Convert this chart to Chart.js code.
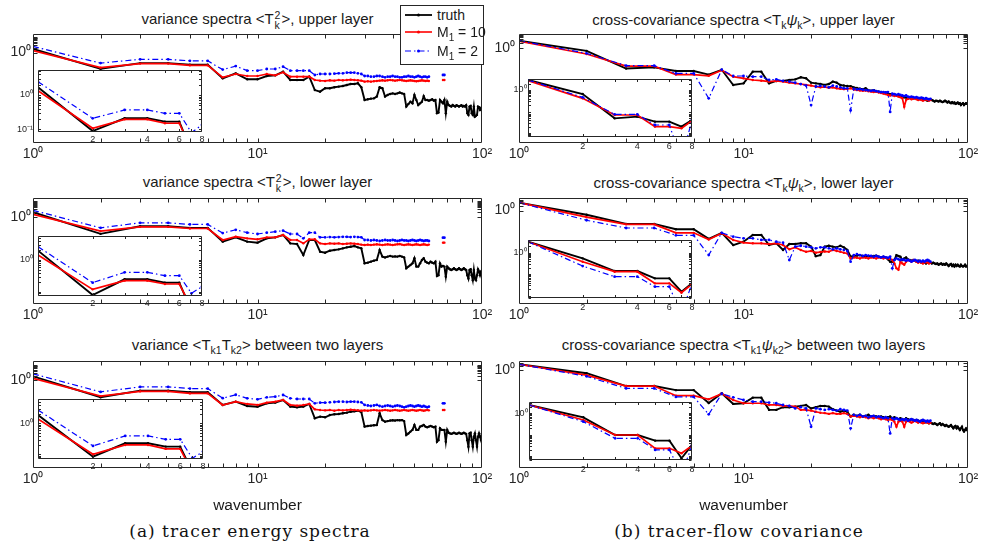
<!DOCTYPE html>
<html>
<head>
<meta charset="utf-8">
<script src="https://cdn.jsdelivr.net/npm/chart.js@4.4.1/dist/chart.umd.min.js"></script>
<style>
  html, body { margin: 0; padding: 0; background: #ffffff; }
  #fig { position: relative; width: 981px; height: 544px; overflow: hidden; background: #fff;
         font-family: "Liberation Sans", Arial, Helvetica, sans-serif; color: #1a1a1a; }
  #fig canvas { position: absolute; }
  .ttl { position: absolute; transform: translate(-50%, -50%); white-space: nowrap;
         font-size: 15px; line-height: 18px; color: #1a1a1a; }
  .ttl sub { font-size: 10.5px; vertical-align: -4px; line-height: 0; }
  .ss { display: inline-block; vertical-align: -5px; font-size: 10.5px; line-height: 10px; margin: 0 1px; }
  .ss span { display: block; }
  .psi { font-style: italic; }
  .cap { position: absolute; transform: translate(-50%, -50%); white-space: nowrap;
         font-family: "DejaVu Serif", "Liberation Serif", serif; font-size: 17px; letter-spacing: 1px; color: #111; }
  #lg { position: absolute; left: 400px; top: 5px; width: 82px; height: 58px;
        border: 1px solid #262626; background: #fff; }
  #lg svg { position: absolute; left: 4px; }
  #lg .lt { position: absolute; left: 36px; font-size: 14px; line-height: 16px; white-space: nowrap; color: #1a1a1a; }
  #lg sub { font-size: 10px; vertical-align: -4px; line-height: 0; }
</style>
</head>
<body>
<div id="fig">
  <div class="ttl" style="left:257.5px;top:20px">variance spectra &lt;T<span class="ss"><span>2</span><span>k</span></span>&gt;, upper layer</div>
  <div class="ttl" style="left:257.5px;top:183px">variance spectra &lt;T<span class="ss"><span>2</span><span>k</span></span>&gt;, lower layer</div>
  <div class="ttl" style="left:257.5px;top:345px">variance &lt;T<sub>k1</sub>T<sub>k2</sub>&gt; between two layers</div>
  <div class="ttl" style="left:743.5px;top:20px">cross-covariance spectra &lt;T<sub>k</sub><span class="psi">ψ</span><sub>k</sub>&gt;, upper layer</div>
  <div class="ttl" style="left:743.5px;top:183px">cross-covariance spectra &lt;T<sub>k</sub><span class="psi">ψ</span><sub>k</sub>&gt;, lower layer</div>
  <div class="ttl" style="left:743.5px;top:345px">cross-covariance spectra &lt;T<sub>k1</sub><span class="psi">ψ</span><sub>k2</sub>&gt; between two layers</div>
  <div class="cap" style="left:250px;top:531px">(a) tracer energy spectra</div>
  <div class="cap" style="left:739px;top:531px">(b) tracer-flow covariance</div>
  <div id="lg">
    <svg style="top:6px" width="28" height="6"><line x1="0" y1="3" x2="27" y2="3" stroke="#000" stroke-width="1.8"/><circle cx="13.5" cy="3" r="1.5" fill="#000"/></svg>
    <div class="lt" style="top:1px">truth</div>
    <svg style="top:23px" width="28" height="6"><line x1="0" y1="3" x2="27" y2="3" stroke="#ff0000" stroke-width="1.6"/><circle cx="13.5" cy="3" r="1.5" fill="#ff0000"/></svg>
    <div class="lt" style="top:18px">M<sub>1</sub> = 10</div>
    <svg style="top:42px" width="28" height="6"><line x1="0" y1="3" x2="27" y2="3" stroke="#0000ff" stroke-width="1.2" stroke-dasharray="6 3 1.5 3"/><circle cx="13.5" cy="3" r="1.5" fill="#0000ff"/></svg>
    <div class="lt" style="top:37px">M<sub>1</sub> = 2</div>
  </div>
</div>
<script>
// integer wavenumbers on the horizontal axis
const wavenumber = [1,2,3,4,5,6,7,8,9,10,11,12,13,14,15,16,17,18,19,20,
  21,22,23,24,25,26,27,28,29,30,31,32,33,34,35,36,37,38,39,40,
  41,42,43,44,45,46,47,48,49,50,51,52,53,54,55,56,57,58,59,60,
  61,62,63,64,65,66,67,68,69,70,71,72,73,74,75,76,77,78,79,80,
  81,82,83,84,85,86,87,88,89,90,91,92,93,94,95,96,97,98,99,100];

// ---- variance spectra, upper layer ----
const varUpperTruth = [1.67,0.089,0.209,0.209,0.167,0.167,0.022,0.046,0.0191,0.0191,
  0.0312,0.0344,0.059,0.0173,0.0173,0.0173,0.0282,0.0039,0.0031,0.0051,
  0.0051,0.0059,0.0065,0.0071,0.0083,0.0096,0.0096,0.0106,0.0059,0.0009,
  0.001,0.0011,0.00115,0.0015,0.0059,0.0051,0.0015,0.0019,0.0022,0.0024,
  0.0022,0.0024,0.0027,0.0024,0.0022,0.00034,0.0005,0.0007,0.00055,0.0019,
  0.0009,0.00043,0.00055,0.0007,0.0016,0.0009,0.0009,0.00082,0.0009,0.001,
  0.00082,0.0009,0.00013,0.00014,0.0009,0.0007,0.00055,0.0009,0.00013,0.0007,
  0.00043,0.00038,0.00034,0.00043,0.00038,0.00034,0.00042,0.00038,0.00034,0.00038,
  0.00042,0.00034,0.00038,0.00034,0.00042,0.00013,0.0001,0.00034,0.00038,0.00013,
  0.0001,0.00034,0.000077,0.000087,0.0001,0.00034,0.00031,0.00021,0.00027,0.00034];
const varUpperM10 = [1.34,0.107,0.195,0.195,0.150,0.150,0.0256,0.0418,0.0312,0.0312,
  0.0418,0.0344,0.0536,0.0282,0.0282,0.0282,0.0282,0.0173,
  0.0157,0.0150,0.0165,0.0157,0.0173,0.0165,0.0173,0.0181,0.0173,0.0165,
  0.0157,0.0135,0.0143,0.0135,0.0143,0.0150,0.0157,0.0165,0.0157,0.0165,
  0.0173,0.0165,0.0157,0.0165,0.0173,0.0165,0.0157,0.0150,0.0157,0.0165,
  0.0157,0.0150,0.0143,0.0150,0.0157,0.0165,0.0157,0.0150,0.0157,0.0150,
  null,null,null,null,null,null,null,null,0.0173,0.0173];
const varUpperM2 = [2.45,0.209,0.366,0.366,0.292,0.292,0.080,0.134,0.0684,0.0684,
  0.0876,0.0876,0.123,0.0684,0.0684,0.0684,0.0684,0.036,
  0.0418,0.0418,0.0418,0.044,0.0464,0.0464,0.0511,0.0511,0.0511,0.0464,0.0418,
  0.0312,0.0312,0.0282,0.0282,0.0312,0.0312,0.0282,0.0256,0.0282,0.0282,
  0.0312,0.0282,0.0282,0.0256,0.0256,0.0282,0.0282,0.0312,0.0282,0.0282,
  0.0256,0.0282,0.0312,0.0282,0.0256,0.0282,0.0282,0.0256,0.0282,
  null,null,null,null,null,null,null,null,0.036,0.036];

// ---- variance spectra, lower layer ----
const varLowerTruth = [1.96,0.0805,0.249,0.249,0.196,0.196,0.0255,0.048,
  0.0255,0.022,0.0416,0.048,0.0683,0.0198,0.0179,0.00357,0.0325,0.0325,
  0.0058,0.005,0.0067,0.0074,0.0082,0.0095,0.011,0.0121,0.0133,0.011,0.0095,
  0.00104,0.00115,0.00133,0.00154,0.0017,0.0074,0.0028,0.0025,0.0028,0.0031,0.0028,0.0029,0.0028,0.0031,0.0028,0.0025,
  0.0005,0.00064,0.00081,0.00104,0.0022,0.00064,0.00064,0.00104,0.0017,0.0022,0.00133,0.00115,0.00104,0.00133,0.00115,0.00104,0.00133,
  0.00016,0.00018,0.00104,0.00064,0.00071,0.00064,0.000145,0.00064,
  0.0005,0.00043,0.00039,0.00043,0.0005,0.00043,0.00039,0.00043,0.0005,0.00043,0.00039,0.00043,0.0005,0.00043,0.00039,
  0.00018,0.00011,0.00039,0.00043,0.00018,0.000087,0.00039,0.00011,0.000087,0.00018,0.00043,0.00031,0.00018,0.00031,0.00039];
const varLowerM10 = [1.43,0.121,0.226,0.226,0.178,0.178,0.0326,0.053,
  0.0416,0.036,0.048,0.048,0.0683,0.0325,0.0325,0.0198,0.036,0.036,
  0.0198,0.0179,0.0198,0.0189,0.0198,0.0179,0.0189,0.0198,0.0189,0.0179,
  0.0165,0.0155,0.0165,0.0155,0.0165,0.0172,0.0165,0.0155,0.0165,0.0172,
  0.0165,0.0155,0.0165,0.0172,0.0179,0.0165,0.0155,0.0165,0.0172,0.0165,
  0.0155,0.0165,0.0172,0.0165,0.0155,0.0165,0.0172,0.0165,0.0155,0.0165,
  null,null,null,null,null,null,null,null,0.022,0.022];
const varLowerM2 = [2.61,0.196,0.412,0.412,0.324,0.324,0.091,0.147,
  0.096,0.079,0.096,0.111,0.129,0.079,0.079,0.0416,0.096,0.096,
  0.048,0.048,0.05,0.048,0.05,0.052,0.052,0.05,0.052,0.05,0.048,
  0.0325,0.0325,0.0303,0.0325,0.0303,0.0281,0.0303,0.0325,0.0303,0.0303,
  0.0325,0.0303,0.0281,0.0303,0.0325,0.0303,0.0303,0.0281,0.0303,0.0325,
  0.0303,0.0281,0.0303,0.0325,0.0303,0.0281,0.0303,0.0303,0.0281,
  null,null,null,null,null,null,null,null,0.0457,0.0457];

// ---- variance between the two layers ----
const varCrossTruth = [1.86,0.084,0.226,0.226,0.177,0.177,0.027,0.044,
  0.0232,0.021,0.0344,0.038,0.0562,0.021,0.0191,0.021,0.0313,0.0038,
  0.0048,0.0044,0.0061,0.0068,0.0071,0.0079,0.0087,0.01,0.0105,0.0116,0.0095,
  0.00111,0.00122,0.00128,0.00135,0.0014,0.0079,0.0029,0.0023,0.0025,0.0027,0.0028,0.0027,0.0029,0.0028,0.0029,0.0025,
  0.00032,0.0004,0.00053,0.00068,0.0014,0.00068,0.00068,0.00111,0.00122,0.0014,0.00111,0.001,0.00111,0.00122,0.00111,0.001,0.00111,
  0.000118,0.00015,0.00086,0.00068,0.00068,0.00068,0.000118,0.00068,
  0.00045,0.00041,0.00038,0.00041,0.00045,0.00041,0.00038,0.00041,0.00045,0.00041,0.00038,0.00041,0.00045,0.00041,0.00038,
  0.00015,0.000057,0.00041,0.00045,0.00015,0.000057,0.00025,0.00041,0.00015,0.000057,0.00025,0.00041,0.00025,0.00015,0.00041];
const varCrossM10 = [1.38,0.100,0.200,0.200,0.149,0.149,0.027,0.044,
  0.0313,0.027,0.038,0.044,0.0562,0.027,0.0244,0.027,0.0313,0.0142,
  0.0128,0.0122,0.0128,0.0116,0.0128,0.0122,0.0128,0.0134,0.0128,0.0122,
  0.0116,0.0122,0.0116,0.0122,0.0128,0.0122,0.0116,0.0122,0.0128,0.0122,
  0.0116,0.0122,0.0128,0.0122,0.0116,0.0122,0.0128,0.0122,0.0116,0.0122,
  0.0128,0.0122,0.0116,0.0122,0.0128,0.0122,0.0116,0.0122,0.0128,0.0122,
  null,null,null,null,null,null,null,null,0.0128,0.0128];
const varCrossM2 = [2.69,0.186,0.390,0.390,0.305,0.305,0.074,0.122,
  0.072,0.062,0.083,0.092,0.118,0.072,0.065,0.065,0.065,0.0344,
  0.038,0.038,0.04,0.042,0.044,0.044,0.042,0.044,0.044,0.042,0.04,
  0.027,0.025,0.0232,0.025,0.027,0.0232,0.0211,0.0232,0.025,0.0232,
  0.0211,0.0232,0.025,0.0232,0.0211,0.0191,0.0211,0.0232,0.025,0.0232,
  0.0211,0.0232,0.025,0.0232,0.0211,0.0232,0.0211,0.0191,0.0211,
  null,null,null,null,null,null,null,null,0.0344,0.0344];

// ---- tracer / streamfunction cross-covariance, upper layer ----
const covUpperTruth = [2.92,0.652,0.048,0.0575,0.0337,0.0337,0.0197,0.0402,
  0.00425,0.0054,0.0305,0.0305,0.0054,0.0077,0.0077,0.0089,0.0098,0.0132,0.0114,0.006,
  0.0054,0.0049,0.00425,0.0049,0.007,0.006,0.00425,0.0039,0.0037,0.0036,
  0.003,0.0027,0.0025,0.0023,0.0026,0.002,0.0018,0.002,0.0017,0.0016,
  0.0015,0.0013,0.0014,0.0012,0.0011,0.00097,0.0011,0.0009,0.00097,0.00083,
  0.00076,0.0007,0.00066,0.0006,0.00066,0.0007,0.00066,0.0006,0.00063,0.0006,
  0.00055,0.00051,0.00046,0.0005,0.00046,0.00042,0.00046,0.00051,0.00046,0.00042,
  0.00037,0.00042,0.0004,0.00037,0.00042,0.00037,0.00034,0.00037,0.00042,0.00037,
  0.00032,0.00037,0.00032,0.00029,0.00034,0.00029,0.00032,0.00026,0.00029,0.00032,
  0.00026,0.00029,0.00022,0.00026,0.00029,0.00022,0.00026,0.00029,0.00026,0.00029];
const covUpperM10 = [2.72,0.41,0.0687,0.0687,0.0197,0.0197,0.0165,0.0375,
  0.0145,0.0114,0.0089,0.008,0.007,0.0077,0.007,0.006,0.0054,0.0049,0.0043,0.0039,
  0.0034,0.003,0.0032,0.0028,0.003,0.0026,0.0024,0.0023,0.0024,0.0026,
  0.0022,0.002,0.0019,0.0018,0.0019,0.0017,0.0016,0.0015,0.0016,0.0014,
  0.0013,0.0012,0.0011,0.00097,0.0009,0.00097,0.00083,0.0009,0.00076,0.0007,
  0.0006,0.00017,0.00046,0.00055,0.0006,0.00051,0.00055,0.0006,0.00051,0.00046,
  0.00051,0.00046,0.00042,0.00046,0.00051,0.00046,0.00042,0.00046];
const covUpperM2 = [2.92,0.456,0.0738,0.0738,0.0235,0.0235,0.00059,0.0402,
  0.016,0.016,0.0145,0.0145,0.0089,0.0098,0.0077,0.007,0.006,0.0049,0.0039,0.00022,
  0.0034,0.0037,0.0034,0.003,0.0039,0.0034,0.003,0.0026,0.0026,0.0001,
  0.0024,0.0022,0.0023,0.0021,0.002,0.0019,0.0018,0.0019,0.0017,0.0016,
  0.0015,0.0015,0.0014,0.0015,0.00008,0.0012,0.0011,0.001,0.0011,0.00097,
  0.0009,0.00083,0.0009,0.00076,0.0007,0.00076,0.0007,0.00066,0.0007,0.00063,
  0.0006,0.00066,0.0006,0.00055,0.0006,0.00055,0.00051,0.00055];

// ---- cross-covariance, lower layer ----
const covLowerTruth = [3.25,0.545,0.140,0.140,0.064,0.064,0.0153,0.0375,
  0.0062,0.0101,0.0272,0.0272,0.0062,0.008,0.003,0.0072,0.0072,0.008,0.008,0.0049,
  0.0012,0.0014,0.0049,0.0056,0.0049,0.0044,0.0056,0.0044,0.003,0.0011,
  0.00123,0.0013,0.0014,0.00123,0.0011,0.00123,0.0011,0.00123,0.0013,0.0011,
  0.001,0.0011,0.001,0.00075,0.00053,0.00053,0.00068,0.0014,0.00123,0.0011,
  0.00068,0.00086,0.001,0.00075,0.00068,0.00062,0.00068,0.00062,0.00053,0.00062,
  0.00053,0.00046,0.00053,0.00046,0.00041,0.00046,0.00053,0.00046,0.00041,0.00046,
  0.00041,0.00038,0.00041,0.00034,0.00038,0.00041,0.00034,0.00038,0.00034,0.00041,
  0.00034,0.00028,0.00034,0.00038,0.00028,0.00034,0.00026,0.00034,0.00028,0.00034,
  0.00028,0.00026,0.00034,0.00028,0.00026,0.00028,0.00034,0.00026,0.00028,0.00034];
const covLowerM10 = [3.25,0.381,0.131,0.131,0.0375,0.0375,0.0138,0.0349,
  0.0131,0.0088,0.008,0.008,0.0072,0.008,0.0062,0.0033,0.0044,0.003,0.0023,0.0026,
  0.002,0.0022,0.0024,0.0023,0.003,0.0026,0.0023,0.002,0.0018,0.00086,
  0.001,0.00095,0.00086,0.001,0.00095,0.00086,0.001,0.00095,0.00086,0.001,
  0.00095,0.00086,0.00095,0.00086,0.0008,0.00068,0.00041,0.0002,0.00016,0.00053,
  0.00041,0.00034,0.00053,0.00068,0.00062,0.00053,0.00068,0.00062,0.00053,0.00046,
  0.00053,0.00046,0.00041,0.00046,0.00053,0.00046,0.00041,0.00046];
const covLowerM2 = [3.25,0.24,0.0766,0.0766,0.0262,0.0262,0.00143,0.0375,
  0.0213,0.0168,0.0168,0.0131,0.0131,0.0101,0.0088,0.00068,0.0049,0.0056,0.0049,0.0044,
  0.0038,0.0044,0.0044,0.0038,0.0033,0.0038,0.0033,0.003,0.0026,0.00053,
  0.0014,0.0016,0.0014,0.00123,0.0014,0.0013,0.00123,0.0011,0.00123,0.0011,
  0.001,0.0011,0.001,0.00095,0.0011,0.0002,0.00068,0.00086,0.00075,0.00068,
  0.00075,0.00068,0.00062,0.00068,0.00062,0.00053,0.00062,0.00068,0.00062,0.00053,
  0.00062,0.00053,0.00062,0.00053,0.00062,0.00068,0.00062,0.00053];

// ---- cross-covariance between the two layers ----
const covCrossTruth = [2.44,0.652,0.098,0.098,0.0535,0.0535,0.0081,0.0337,
  0.007,0.0077,0.0176,0.0176,0.0029,0.0029,0.0043,0.0043,0.0047,0.0052,0.006,0.0036,
  0.0043,0.0052,0.0052,0.0047,0.0032,0.0026,0.0022,0.0026,0.0022,0.0011,
  0.0014,0.0012,0.0014,0.0011,0.0012,0.0014,0.0011,0.0012,0.0011,0.00098,
  0.0011,0.00098,0.00085,0.00098,0.0011,0.00085,0.00098,0.00085,0.00073,0.00085,
  0.00073,0.00065,0.00085,0.00073,0.00065,0.00073,0.00065,0.00059,0.00065,0.00059,
  0.00051,0.00059,0.00051,0.00044,0.00051,0.00044,0.0004,0.00044,0.0004,0.00036,
  0.0004,0.00036,0.00031,0.00036,0.0004,0.00031,0.00036,0.00031,0.00027,0.00031,
  0.00027,0.00024,0.00027,0.00031,0.00024,0.00019,0.00024,0.00027,0.00019,0.00024,
  0.00019,0.00015,0.00019,0.00024,0.00015,0.00012,0.00015,0.00019,0.00015,0.00019];
const covCrossM10 = [2.44,0.49,0.098,0.098,0.0235,0.0235,0.0138,0.0313,
  0.0125,0.0077,0.0077,0.0077,0.006,0.006,0.0052,0.0052,0.0047,0.0029,0.0029,0.0026,
  0.0022,0.0019,0.0018,0.0016,0.0018,0.0016,0.0016,0.0018,0.0016,0.0011,
  0.0012,0.0011,0.00098,0.0011,0.00098,0.00085,0.00098,0.00085,0.00098,0.00085,
  0.00073,0.00085,0.00073,0.00065,0.00073,0.00065,0.00051,0.00024,0.00051,0.00059,
  0.00051,0.00024,0.00051,0.00059,0.00051,0.00044,0.00051,0.00059,0.00051,0.00044,
  0.00051,0.00044,0.0004,0.00044,0.00051,0.00044,0.0004,0.00044];
const covCrossM2 = [2.44,0.41,0.0687,0.0687,0.0197,0.0197,0.0015,0.0313,
  0.0186,0.0125,0.0098,0.0098,0.0085,0.0077,0.006,0.0052,0.0036,0.0043,0.0036,0.00024,
  0.0036,0.0032,0.0029,0.0032,0.0029,0.0026,0.0032,0.0029,0.0026,0.00019,
  0.0014,0.0012,0.0014,0.0011,0.0012,0.00098,0.0011,0.0012,0.00098,0.0011,
  0.00098,0.00085,0.00098,0.00085,0.00009,0.00085,0.00073,0.00085,0.00073,0.00065,
  0.00073,0.00065,0.00073,0.00059,0.00065,0.00073,0.00065,0.00059,0.00065,0.00059,
  0.00051,0.00059,0.00065,0.00059,0.00051,0.00059,0.00051,0.00059];

// tick labels
const mainXTicks = [1, 10, 100];
const insetXTicks = [2, 4, 6, 8];
const expLabels = { '0.1': '10\u207B\u00B9', '1': '10\u2070', '10': '10\u00B9', '100': '10\u00B2' };

// panel layout: plot boxes in page pixels, log10 limits of the vertical axes
const panels = [
  { truth: varUpperTruth, m10: varUpperM10, m2: varUpperM2, col: 0,
    box: { l: 33, t: 34, r: 482, b: 143 }, yLog: [-5.801, 1.186],
    ibox: { l: 38, t: 70, r: 202, b: 132 }, iyLog: [-1.079, 0.729], iyTicks: [0.1, 1] },
  { truth: varLowerTruth, m10: varLowerM10, m2: varLowerM2, col: 0,
    box: { l: 33, t: 198, r: 482, b: 304 }, yLog: [-5.590, 1.205],
    ibox: { l: 38, t: 236, r: 202, b: 296 }, iyLog: [-1.125, 0.75], iyTicks: [1] },
  { truth: varCrossTruth, m10: varCrossM10, m2: varCrossM2, col: 0, xTitle: true,
    box: { l: 33, t: 361, r: 482, b: 468 }, yLog: [-5.609, 1.25],
    ibox: { l: 38, t: 399, r: 203, b: 459 }, iyLog: [-1.152, 0.784], iyTicks: [1] },
  { truth: covUpperTruth, m10: covUpperM10, m2: covUpperM2, col: 1,
    box: { l: 519, t: 34, r: 968, b: 143 }, yLog: [-6.09, 0.897],
    ibox: { l: 528, t: 79, r: 692, b: 137 }, iyLog: [-2.186, 0.512], iyTicks: [1] },
  { truth: covLowerTruth, m10: covLowerM10, m2: covLowerM2, col: 1,
    box: { l: 519, t: 198, r: 968, b: 304 }, yLog: [-5.987, 0.808],
    ibox: { l: 528, t: 240, r: 692, b: 298 }, iyLog: [-2.107, 0.591], iyTicks: [1] },
  { truth: covCrossTruth, m10: covCrossM10, m2: covCrossM2, col: 1, xTitle: true,
    box: { l: 519, t: 361, r: 968, b: 468 }, yLog: [-6.263, 0.596],
    ibox: { l: 529, t: 402, r: 692, b: 460 }, iyLog: [-2.172, 0.526], iyTicks: [1] }
];

const AXIS = '#262626';
const FONT = '"Liberation Sans", Arial, Helvetica, sans-serif';

function minorTicks(min, max) {
  const out = [];
  for (let e = -7; e <= 2; e++) {
    for (let m = 1; m <= 9; m++) {
      const v = m * Math.pow(10, e);
      if (v > min * 1.0001 && v < max * 0.9999) out.push(v);
    }
  }
  return out;
}

// box outline with inward tick marks on all four sides
function framePlugin(xt, yt, len, fillWhite) {
  return {
    id: 'frame',
    beforeDraw(chart) {
      if (!fillWhite) return;
      const a = chart.chartArea, c = chart.ctx;
      c.save();
      c.fillStyle = '#ffffff';
      c.fillRect(a.left, a.top, a.right - a.left, a.bottom - a.top);
      c.restore();
    },
    afterDraw(chart) {
      const c = chart.ctx, a = chart.chartArea, x = chart.scales.x, y = chart.scales.y;
      const L = Math.round(a.left) + 0.5, R = Math.round(a.right) - 0.5;
      const T = Math.round(a.top) + 0.5, B = Math.round(a.bottom) - 0.5;
      c.save();
      c.strokeStyle = AXIS;
      c.lineWidth = 1;
      c.beginPath();
      xt.forEach(v => {
        const px = Math.round(x.getPixelForValue(v)) + 0.5;
        c.moveTo(px, B); c.lineTo(px, B - len);
        c.moveTo(px, T); c.lineTo(px, T + len);
      });
      yt.forEach(v => {
        const py = Math.round(y.getPixelForValue(v)) + 0.5;
        c.moveTo(L, py); c.lineTo(L + len, py);
        c.moveTo(R, py); c.lineTo(R - len, py);
      });
      c.rect(L, T, R - L, B - T);
      c.stroke();
      c.restore();
    }
  };
}

function datasetsFor(p) {
  const pts = vals => vals.map((v, i) => ({ x: wavenumber[i], y: v }));
  return [
    { label: 'truth', data: pts(p.truth), borderColor: '#000000', backgroundColor: '#000000',
      borderWidth: 1.9, pointRadius: 1.2, pointBorderWidth: 0, order: 3 },
    { label: 'M1 = 10', data: pts(p.m10), borderColor: '#ff0000', backgroundColor: '#ff0000',
      borderWidth: 1.7, pointRadius: 1.2, pointBorderWidth: 0, order: 2 },
    { label: 'M1 = 2', data: pts(p.m2), borderColor: '#0000ff', backgroundColor: '#0000ff',
      borderWidth: 1.2, borderDash: [6, 3, 1.5, 3], pointRadius: 1.4, pointBorderWidth: 0, order: 1 }
  ];
}

function makeChart(p, inset) {
  const box = inset ? p.ibox : p.box;
  let pad;
  if (inset) pad = { l: 24, r: 3, t: 2, b: 16 };
  else pad = { l: p.col === 0 ? 33 : 29, r: p.col === 0 ? 16 : 13, t: 6, b: p.xTitle ? 50 : 27 };
  const cv = document.createElement('canvas');
  cv.width = box.r - box.l + pad.l + pad.r;
  cv.height = box.b - box.t + pad.t + pad.b;
  cv.style.left = (box.l - pad.l) + 'px';
  cv.style.top = (box.t - pad.t) + 'px';
  document.getElementById('fig').appendChild(cv);

  const yLog = inset ? p.iyLog : p.yLog;
  const yMin = Math.pow(10, yLog[0]), yMax = Math.pow(10, yLog[1]);
  const xMax = inset ? 8 : 100;
  const xTickVals = inset ? insetXTicks : mainXTicks;
  const yTickVals = inset ? p.iyTicks : [1];
  const tickFont = { family: FONT, size: inset ? 9 : 14 };

  const xt = inset ? [2, 3, 4, 5, 6, 7] : minorTicks(1, 100);
  const yt = inset ? minorTicks(yMin, yMax) : minorTicks(yMin, yMax).filter(v => v >= 1);

  return new Chart(cv, {
    type: 'line',
    data: { datasets: datasetsFor(p) },
    options: {
      responsive: false, animation: false, devicePixelRatio: 1, events: [],
      spanGaps: false,
      layout: { autoPadding: false, padding: { left: 0, right: pad.r, top: pad.t, bottom: 0 } },
      elements: { line: { tension: 0 } },
      plugins: { legend: { display: false }, tooltip: { enabled: false } },
      datasets: { line: { clip: 0 } },
      scales: {
        x: {
          type: 'logarithmic', min: 1, max: xMax,
          grid: { display: false, drawTicks: false }, border: { display: false },
          afterBuildTicks: s => { s.ticks = xTickVals.map(v => ({ value: v })); },
          afterFit: s => { s.height = pad.b; s.paddingLeft = 0; s.paddingRight = 0; },
          ticks: {
            autoSkip: false, maxRotation: 0, color: AXIS, font: tickFont,
            padding: inset ? (p.col === 0 ? 2.5 : 4.5) : 3,
            callback: v => inset ? String(v) : expLabels[String(v)]
          },
          title: p.xTitle && !inset
            ? { display: true, text: 'wavenumber', color: '#1a1a1a', font: { family: FONT, size: 15.5 }, padding: { top: 0, bottom: 3 } }
            : { display: false }
        },
        y: {
          type: 'logarithmic', min: yMin, max: yMax,
          grid: { display: false, drawTicks: false }, border: { display: false },
          afterBuildTicks: s => { s.ticks = yTickVals.map(v => ({ value: v })); },
          afterFit: s => { s.width = pad.l; s.paddingTop = 0; s.paddingBottom = 0; },
          ticks: {
            autoSkip: false, color: AXIS, font: tickFont,
            padding: inset ? (p.col === 0 ? 5 : 1.5) : (p.col === 0 ? 2 : 4),
            callback: v => expLabels[String(v)]
          }
        }
      }
    },
    plugins: [framePlugin(xt, yt, inset ? 2.5 : 4, inset)]
  });
}

panels.forEach(p => makeChart(p, false));
panels.forEach(p => makeChart(p, true));
// keep the legend above the plot canvases
document.getElementById('fig').appendChild(document.getElementById('lg'));
</script>
</body>
</html>
